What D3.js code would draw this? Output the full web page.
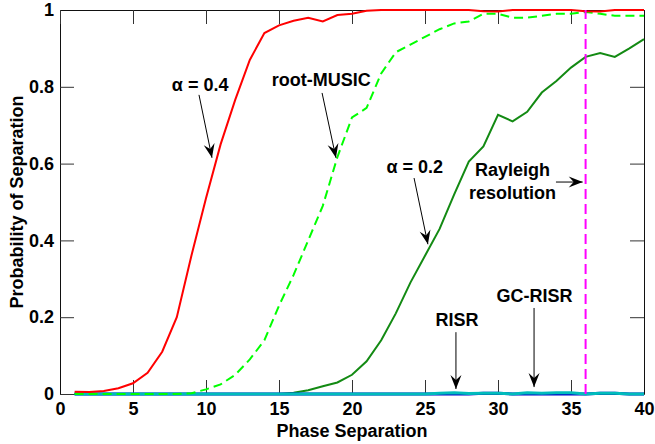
<!DOCTYPE html>
<html>
<head>
<meta charset="utf-8">
<script src="https://cdn.jsdelivr.net/npm/d3@7"></script>
<style>
  body { margin: 0; background: #fff; }
  text { font-family: "Liberation Sans", Arial, sans-serif; font-weight: bold; }
</style>
</head>
<body>
<div id="chart"></div>
<script>
// Data
var phaseSep = [1,2,3,4,5,6,7,8,9,10,11,12,13,14,15,16,17,18,19,20,
                21,22,23,24,25,26,27,28,29,30,31,32,33,34,35,36,37,38,39,40];

var alpha04 = [0.006,0.005,0.008,0.015,0.028,0.055,0.11,0.2,0.36,0.51,
               0.65,0.766,0.87,0.94,0.96,0.972,0.98,0.97,0.987,0.99,
               0.998,1,1,1,1,1,1,1,0.997,0.996,1,1,1,1,1,0.997,0.996,1,1,1];

var rootMusic = [0,0,0,0,0,0,0,0,0.002,0.012,
                 0.025,0.05,0.09,0.14,0.23,0.31,0.4,0.49,0.617,0.72,
                 0.745,0.835,0.89,0.91,0.93,0.95,0.965,0.97,0.99,0.99,
                 0.98,0.98,0.985,0.99,0.99,0.995,0.99,0.985,0.985,0.985];

var alpha02 = [0,0,0,0,0,0,0,0,0,0,
               0,0,0,0,0,0.003,0.01,0.02,0.03,0.05,
               0.085,0.14,0.21,0.29,0.36,0.43,0.52,0.605,0.645,0.727,
               0.71,0.735,0.785,0.815,0.85,0.878,0.888,0.878,0.9,0.924];

var risr = [0,0,0,0,0,0,0,0,0,0,
            0,0,0,0,0,0,0,0,0,0,
            0,0,0,0,0,0,0,0,0.002,0.002,
            0,0,0,0,0,0,0.002,0.002,0,0];

var gcRisr = [0,0,0,0,0,0,0,0,0,0,
              0,0,0,0,0,0,0,0,0,0,
              0,0,0,0,0,0.002,0.003,0.001,0.002,0.002,
              0,0.003,0.002,0.003,0.003,0,0.002,0.002,0,0];

var rayleigh = 36;

var xTicks = [0,5,10,15,20,25,30,35,40];
var yTicks = [0,0.2,0.4,0.6,0.8,1];
var yTickLabels = ["0","0.2","0.4","0.6","0.8","1"];

// annotation text and arrows, in data units
var notes = [
  { lines: ["\u03b1 = 0.4"], x: 9.6, y: 0.805, from: [9.52, 0.779], to: [10.41, 0.615] },
  { lines: ["root-MUSIC"], x: 17.9, y: 0.818, from: [17.95, 0.784], to: [18.9, 0.615] },
  { lines: ["\u03b1 = 0.2"], x: 24.3, y: 0.591, from: [24.25, 0.5625], to: [25.2, 0.39] },
  { lines: ["Rayleigh", "resolution"], x: 31.0, y: 0.583, from: [33.97, 0.552], to: [35.8, 0.552] },
  { lines: ["RISR"], x: 27.2, y: 0.193, from: [27.12, 0.161], to: [27.12, 0.013] },
  { lines: ["GC-RISR"], x: 32.5, y: 0.255, from: [32.47, 0.224], to: [32.47, 0.018] }
];

var margin = { top: 10, right: 11, bottom: 50, left: 60 },
    width = 655 - margin.left - margin.right,
    height = 444 - margin.top - margin.bottom;

var svg = d3.select("#chart")
    .append("svg")
    .attr("width", width + margin.left + margin.right)
    .attr("height", height + margin.top + margin.bottom)
    .append("g")
    .attr("transform", "translate(" + margin.left + "," + margin.top + ")");

var x = d3.scaleLinear().domain([0, 40]).range([0, width]);
var y = d3.scaleLinear().domain([0, 1]).range([height, 0]);

svg.append("defs").append("marker")
    .attr("id", "head")
    .attr("viewBox", "-15 -7 16 14")
    .attr("markerUnits", "userSpaceOnUse")
    .attr("markerWidth", 16)
    .attr("markerHeight", 14)
    .attr("refX", 0)
    .attr("refY", 0)
    .attr("orient", "auto")
    .append("path")
    .attr("d", "M0,0 L-14,-5.5 L-9,0 L-14,5.5 Z")
    .attr("fill", "#000");

// Axes with inward ticks on all four sides
svg.append("g")
    .attr("transform", "translate(0," + height + ")")
    .call(d3.axisBottom(x).tickValues(xTicks).tickSize(-14).tickSizeOuter(0).tickPadding(8));
svg.append("g")
    .call(d3.axisLeft(y).tickValues(yTicks).tickSize(-14).tickSizeOuter(0).tickPadding(6)
        .tickFormat(function (d, i) { return yTickLabels[i]; }));
svg.append("g")
    .call(d3.axisTop(x).tickValues(xTicks).tickSize(-14).tickSizeOuter(0).tickFormat(""));
svg.append("g")
    .attr("transform", "translate(" + width + ",0)")
    .call(d3.axisRight(y).tickValues(yTicks).tickSize(-14).tickSizeOuter(0).tickFormat(""));

svg.selectAll(".tick line").attr("stroke", "#333");
svg.selectAll(".domain").attr("stroke", "#111");
svg.selectAll(".tick text")
    .attr("font-size", 18)
    .attr("font-family", "Liberation Sans, Arial, sans-serif")
    .attr("font-weight", "bold")
    .attr("fill", "#000");

// Lines
function series(vals) {
    return phaseSep.map(function (p, i) { return [p, vals[i]]; });
}
var line = d3.line()
    .x(function (d) { return x(d[0]); })
    .y(function (d) { return y(d[1]); });

var plotted = [
    { vals: alpha02, color: "#138a13", width: 2, dash: null },
    { vals: risr, color: "#0000c8", width: 3, dash: null },
    { vals: gcRisr, color: "#00bcbc", width: 3, dash: null },
    { vals: rootMusic, color: "#00ff00", width: 2, dash: "9,5" },
    { vals: alpha04, color: "#ff0000", width: 2, dash: null }
];

svg.selectAll(".curve")
    .data(plotted)
    .enter()
    .append("path")
    .attr("class", "curve")
    .attr("d", function (d) { return line(series(d.vals)); })
    .attr("fill", "none")
    .attr("stroke", function (d) { return d.color; })
    .attr("stroke-width", function (d) { return d.width; })
    .attr("stroke-dasharray", function (d) { return d.dash; });

// Rayleigh resolution limit
svg.append("line")
    .attr("x1", x(rayleigh)).attr("x2", x(rayleigh))
    .attr("y1", y(0)).attr("y2", y(1))
    .attr("stroke", "#ff00ff")
    .attr("stroke-width", 2)
    .attr("stroke-dasharray", "10,5");

// Annotations
var note = svg.selectAll(".note")
    .data(notes)
    .enter()
    .append("g")
    .attr("class", "note");

note.append("text")
    .attr("text-anchor", "middle")
    .attr("font-size", 18)
    .attr("x", function (d) { return x(d.x); })
    .attr("y", function (d) { return y(d.y); })
    .selectAll("tspan")
    .data(function (d) { return d.lines.map(function (l, i) { return { l: l, i: i, x: d.x }; }); })
    .enter()
    .append("tspan")
    .attr("x", function (d) { return x(d.x); })
    .attr("dy", function (d) { return d.i === 0 ? "0.35em" : "1.25em"; })
    .text(function (d) { return d.l; });

note.append("line")
    .attr("x1", function (d) { return x(d.from[0]); })
    .attr("y1", function (d) { return y(d.from[1]); })
    .attr("x2", function (d) { return x(d.to[0]); })
    .attr("y2", function (d) { return y(d.to[1]); })
    .attr("stroke", "#000")
    .attr("stroke-width", 1)
    .attr("marker-end", "url(#head)");

// Axis titles
svg.append("text")
    .attr("x", width / 2)
    .attr("y", height + 43)
    .attr("text-anchor", "middle")
    .attr("font-size", 18)
    .text("Phase Separation");

svg.append("text")
    .attr("transform", "rotate(-90)")
    .attr("x", -height / 2)
    .attr("y", -43)
    .attr("dy", "0.35em")
    .attr("text-anchor", "middle")
    .attr("font-size", 18)
    .text("Probability of Separation");
</script>
</body>
</html>
